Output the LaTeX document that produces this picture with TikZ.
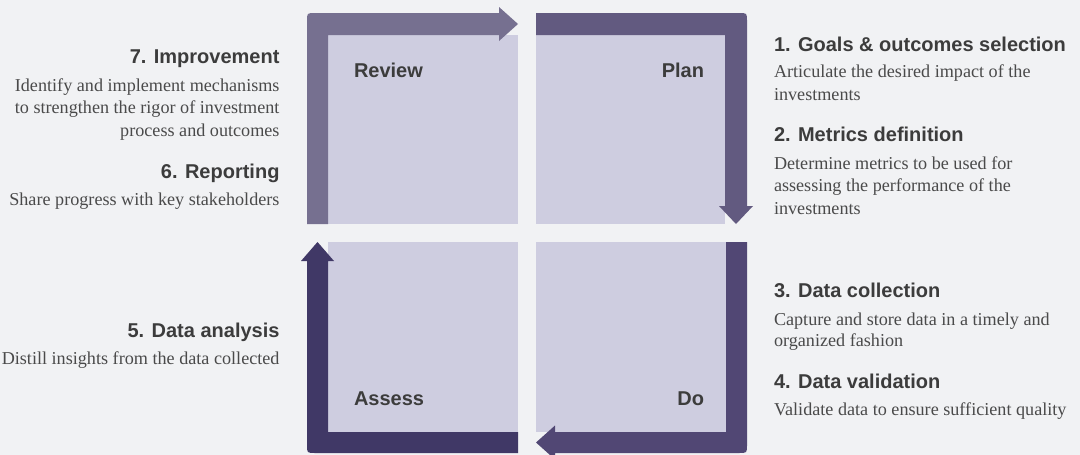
\documentclass[tikz,border=0pt]{standalone}
\usepackage{fontspec}
\newfontfamily\hfont{Liberation Sans}
\newfontfamily\bfont{Liberation Serif}
\definecolor{bg}{HTML}{F1F2F4}
\definecolor{sq}{HTML}{CECDE0}
\definecolor{creview}{HTML}{767090}
\definecolor{cplan}{HTML}{625A80}
\definecolor{cdo}{HTML}{514774}
\definecolor{cassess}{HTML}{403866}
\definecolor{htext}{HTML}{3C3C3C}
\definecolor{btext}{HTML}{4A4A4A}
\tikzset{
  every node/.style={inner sep=0pt, outer sep=0pt},
  quad/.style={font=\hfont\bfseries\fontsize{20}{24}\selectfont, text=htext},
  head/.style={font=\hfont\bfseries\fontsize{20}{24}\selectfont, text=htext},
  body/.style={font=\bfont\fontsize{18.15}{22}\selectfont, text=btext},
}
\begin{document}
\begin{tikzpicture}[x=1pt,y=-1pt]
\useasboundingbox (0,0) rectangle (1080,455);
\fill[bg] (0,0) rectangle (1080,455);
\clip (0,0) rectangle (1080,455);
% light squares
\fill[sq] (328,35) rectangle (518,224);
\fill[sq] (536,35) rectangle (725,224);
\fill[sq] (328,242) rectangle (518,432);
\fill[sq] (536,242) rectangle (726,432);
% Review band
\fill[creview] (328,224) -- (307,224) -- (307,21) .. controls (307,13) .. (315,13)
  -- (499,13) -- (499,7) -- (518,24) -- (499,41) -- (499,35) -- (328,35) -- cycle;
% Plan band
\fill[cplan] (536,13) -- (739,13) .. controls (747,13) .. (747,21) -- (747,206)
  -- (753,206) -- (736,224) -- (719,206) -- (725,206) -- (725,35) -- (536,35) -- cycle;
% Do band
\fill[cdo] (726,242) -- (747,242) -- (747,445) .. controls (747,453) .. (739,453)
  -- (555,453) -- (555,459.5) -- (536,442.5) -- (555,425.5) -- (555,432) -- (726,432) -- cycle;
% Assess band
\fill[cassess] (328,261) -- (334,261) -- (317.5,242) -- (301,261) -- (307,261)
  -- (307,445) .. controls (307,453) .. (315,453) -- (518,453) -- (518,432) -- (328,432) -- cycle;
% quadrant labels
\node[quad, anchor=base west] (review) at (354,77) {Review};
\node[quad, anchor=base east] (plan) at (704,77) {Plan};
\node[quad, anchor=base west] (assess) at (354,405) {Assess};
\node[quad, anchor=base east] (do) at (704,405) {Do};
% left texts
\node[head, anchor=base east] (h7) at (279.5,63.5) {7. Improvement};
\node[body, anchor=base east] (b7a) at (279.5,91) {Identify and implement mechanisms};
\node[body, anchor=base east] (b7b) at (279.5,113.5) {to strengthen the rigor of investment};
\node[body, anchor=base east] (b7c) at (279.5,136) {process and outcomes};
\node[head, anchor=base east] (h6) at (279.5,178) {6. Reporting};
\node[body, anchor=base east] (b6a) at (279.5,205) {Share progress with key stakeholders};
\node[head, anchor=base east] (h5) at (279.5,337) {5. Data analysis};
\node[body, anchor=base east] (b5a) at (279.5,364) {Distill insights from the data collected};
% right texts
\node[head, anchor=base west] (h1) at (774,51.7) {1. Goals \& outcomes selection};
\node[body, anchor=base west] (b1a) at (774,77.3) {Articulate the desired impact of the};
\node[body, anchor=base west] (b1b) at (774,100) {investments};
\node[head, anchor=base west] (h2) at (774,141.7) {2. Metrics definition};
\node[body, anchor=base west] (b2a) at (774,169) {Determine metrics to be used for};
\node[body, anchor=base west] (b2b) at (774,191.7) {assessing the performance of the};
\node[body, anchor=base west] (b2c) at (774,214) {investments};
\node[head, anchor=base west] (h3) at (774,297.3) {3. Data collection};
\node[body, anchor=base west] (b3a) at (774,325) {Capture and store data in a timely and};
\node[body, anchor=base west] (b3b) at (774,346) {organized fashion};
\node[head, anchor=base west] (h4) at (774,388.3) {4. Data validation};
\node[body, anchor=base west] (b4a) at (774,415.7) {Validate data to ensure sufficient quality};
\end{tikzpicture}
\end{document}
